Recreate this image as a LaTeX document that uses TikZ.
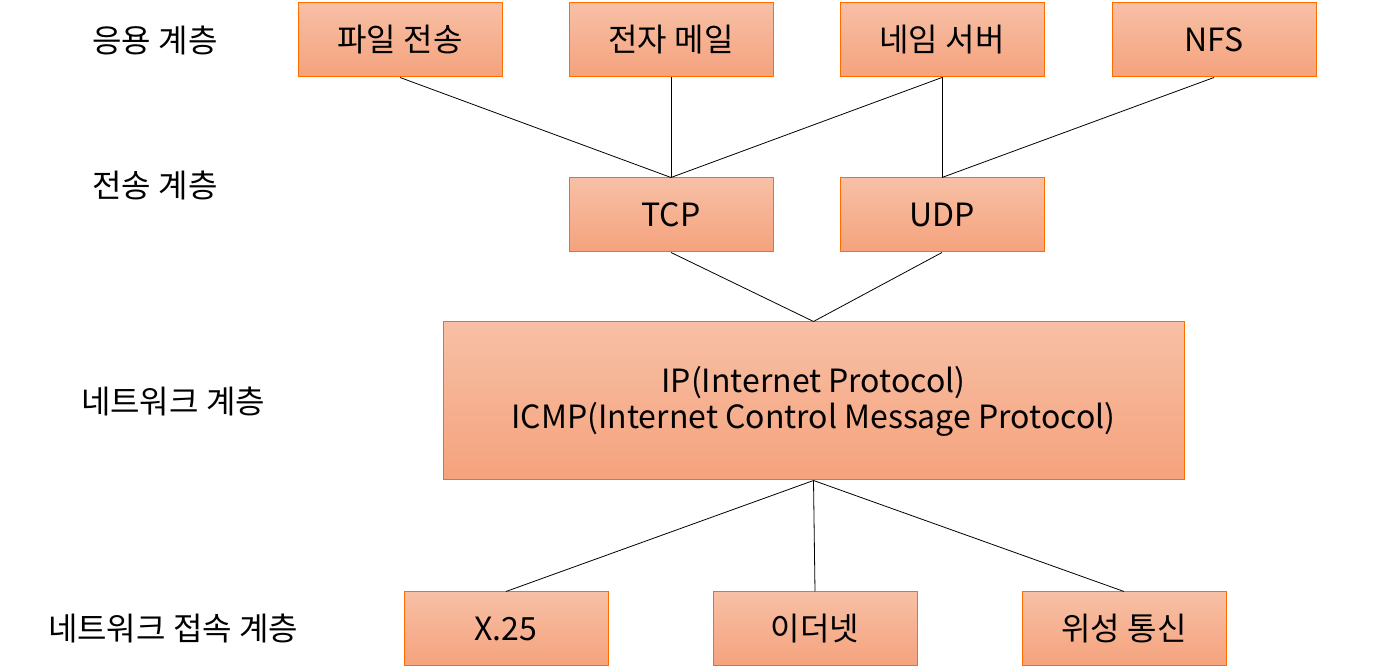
\documentclass[tikz,border=0pt]{standalone}
\usepackage{fontspec}
\setmainfont{Noto Sans CJK KR}
\begin{document}
\begin{tikzpicture}[x=0.5pt,y=-0.5pt,
 box/.style={draw=orange!85!red, line width=0.5pt, top color=boxtop, bottom color=boxbot, minimum width=102pt, minimum height=37pt, inner sep=0pt, font=\fontsize{16}{18}\selectfont},
 lbl/.style={font=\fontsize{16}{18}\selectfont},
 ln/.style={black, line width=0.4pt}]
\definecolor{boxtop}{HTML}{F7C0A6}
\definecolor{boxbot}{HTML}{F5A27C}
\useasboundingbox (0,0) rectangle (1388,672);
\node[lbl] (l1) at (155,40) {응용 계층};
\node[lbl] (l2) at (155,185) {전송 계층};
\node[lbl] (l3) at (173,401) {네트워크 계층};
\node[lbl] (l4) at (173,628) {네트워크 접속 계층};
\node[box] (ft) at (400,40) {파일 전송};
\node[box] (em) at (671,40) {전자 메일};
\node[box] (ns) at (942,40) {네임 서버};
\node[box] (nfs) at (1214,40) {NFS};
\node[box] (tcp) at (671,215) {TCP};
\node[box] (udp) at (942,215) {UDP};
\node[box, minimum width=370.5pt, minimum height=79pt, align=center] (ip) at (813.5,401) {IP(Internet Protocol)\\ICMP(Internet Control Message Protocol)};
\node[box] (x25) at (506,629) {X.25};
\node[box] (eth) at (815,629) {이더넷};
\node[box] (sat) at (1124,629) {위성 통신};
\draw[ln] (ft.south) -- (tcp.north);
\draw[ln] (em.south) -- (tcp.north);
\draw[ln] (ns.south) -- (tcp.north);
\draw[ln] (ns.south) -- (udp.north);
\draw[ln] (nfs.south) -- (udp.north);
\draw[ln] (tcp.south) -- (ip.north);
\draw[ln] (udp.south) -- (ip.north);
\draw[ln] (ip.south) -- (x25.north);
\draw[ln] (ip.south) -- (eth.north);
\draw[ln] (ip.south) -- (sat.north);
\end{tikzpicture}
\end{document}
